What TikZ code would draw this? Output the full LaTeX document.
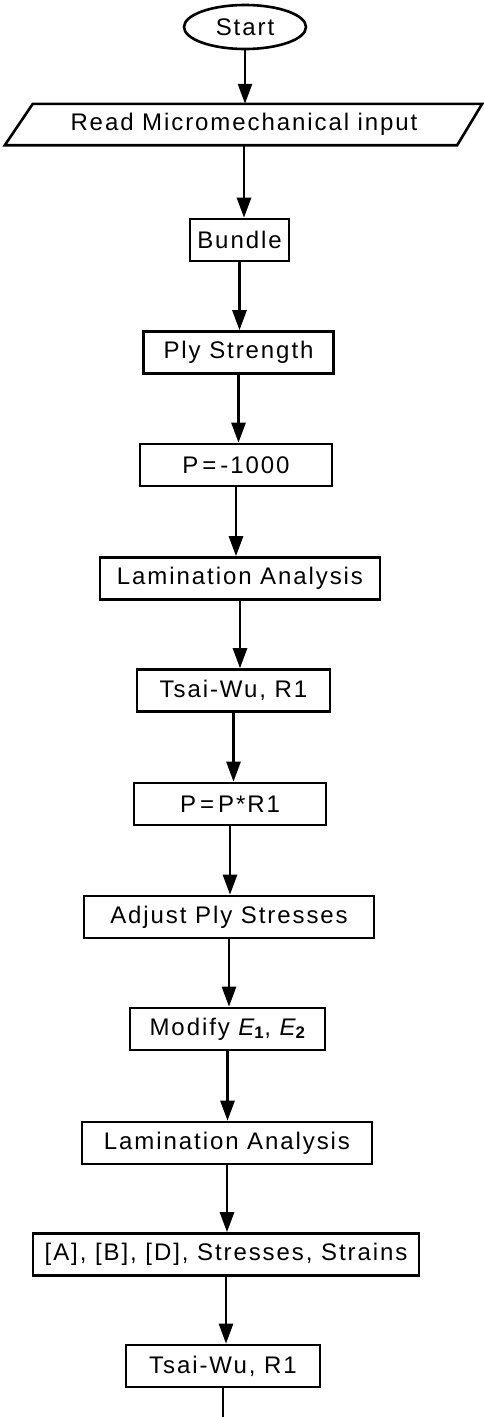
\documentclass[tikz,border=0pt]{standalone}
\usepackage{fontspec}
\setmainfont{Liberation Sans}[LetterSpace=8]
\usetikzlibrary{arrows.meta,shapes.geometric}

\newcommand{\lbl}{\fontsize{24pt}{28pt}\selectfont}

\tikzset{
  stepbox/.style={draw, line width=2.6pt, rectangle, inner sep=0pt,
                  minimum height=42pt, font=\lbl},
  termbox/.style={draw, line width=2.6pt, ellipse, inner sep=0pt,
                  minimum width=122pt, minimum height=44pt, font=\lbl},
  iobody/.style={inner sep=0pt, minimum height=41pt, font=\lbl},
  iooutline/.style={line width=2.6pt, line join=miter},
  link/.style={line width=2.6pt, -{Triangle[length=20pt,width=14pt]}},
  tail/.style={line width=2.6pt},
}

\begin{document}
\begin{tikzpicture}[x=1pt,y=-1pt]
  \useasboundingbox (0,0) rectangle (484,1417);

  % terminal and input
  \node[termbox] (start) at (245,27) {Start};
  \node[iobody, minimum width=450pt] (read) at (244,124.5) {Read Micromechanical input};
  \draw[iooutline]
    ([xshift=-14pt]read.south west) -- ([xshift=14pt]read.north west) --
    ([xshift=13pt]read.north east) -- ([xshift=-12pt]read.south east) -- cycle;

  % processing steps
  \node[stepbox, minimum width=99pt]  (bundle) at (239.5,240)  {Bundle};
  \node[stepbox, minimum width=190pt] (ply)    at (238.5,352.5){Ply Strength};
  \node[stepbox, minimum width=192pt] (pinit)  at (236,465)    {P\,=\,-1000};
  \node[stepbox, minimum width=280pt] (lamA)   at (240,578.5)  {Lamination Analysis};
  \node[stepbox, minimum width=193pt] (twA)    at (233.5,690.5){Tsai-Wu, R1};
  \node[stepbox, minimum width=192pt] (pupd)   at (230,804)    {P\,=\,P*R1};
  \node[stepbox, minimum width=290pt] (adj)    at (229,917)    {Adjust Ply Stresses};
  \node[stepbox, minimum width=195pt] (modify) at (227.5,1029) {Modify {\itshape E}\textsubscript{\bfseries 1}, {\itshape E}\textsubscript{\bfseries 2}};
  \node[stepbox, minimum width=290pt] (lamB)   at (227,1143)   {Lamination Analysis};
  \node[stepbox, minimum width=386pt] (abd)    at (226,1254.5) {[A], [B], [D], Stresses, Strains};
  \node[stepbox, minimum width=194pt] (twB)    at (223,1366)   {Tsai-Wu, R1};
  \coordinate (cont) at (222,1417);

  % flow: each connector drops straight down from the box above
  \draw[link] (start.south)  -- (start.south  |- read.north);
  \draw[link] (read.south)   -- (read.south   |- bundle.north);
  \draw[link] (bundle.south) -- (bundle.south |- ply.north);
  \draw[link] (ply.south)    -- (ply.south    |- pinit.north);
  \draw[link] (pinit.south)  -- (pinit.south  |- lamA.north);
  \draw[link] (lamA.south)   -- (lamA.south   |- twA.north);
  \draw[link] (twA.south)    -- (twA.south    |- pupd.north);
  \draw[link] (pupd.south)   -- (pupd.south   |- adj.north);
  \draw[link] (adj.south)    -- (adj.south    |- modify.north);
  \draw[link] (modify.south) -- (modify.south |- lamB.north);
  \draw[link] (lamB.south)   -- (lamB.south   |- abd.north);
  \draw[link] (abd.south)    -- (abd.south    |- twB.north);
  \draw[tail] (twB.south)    -- (twB.south    |- cont);
\end{tikzpicture}
\end{document}
